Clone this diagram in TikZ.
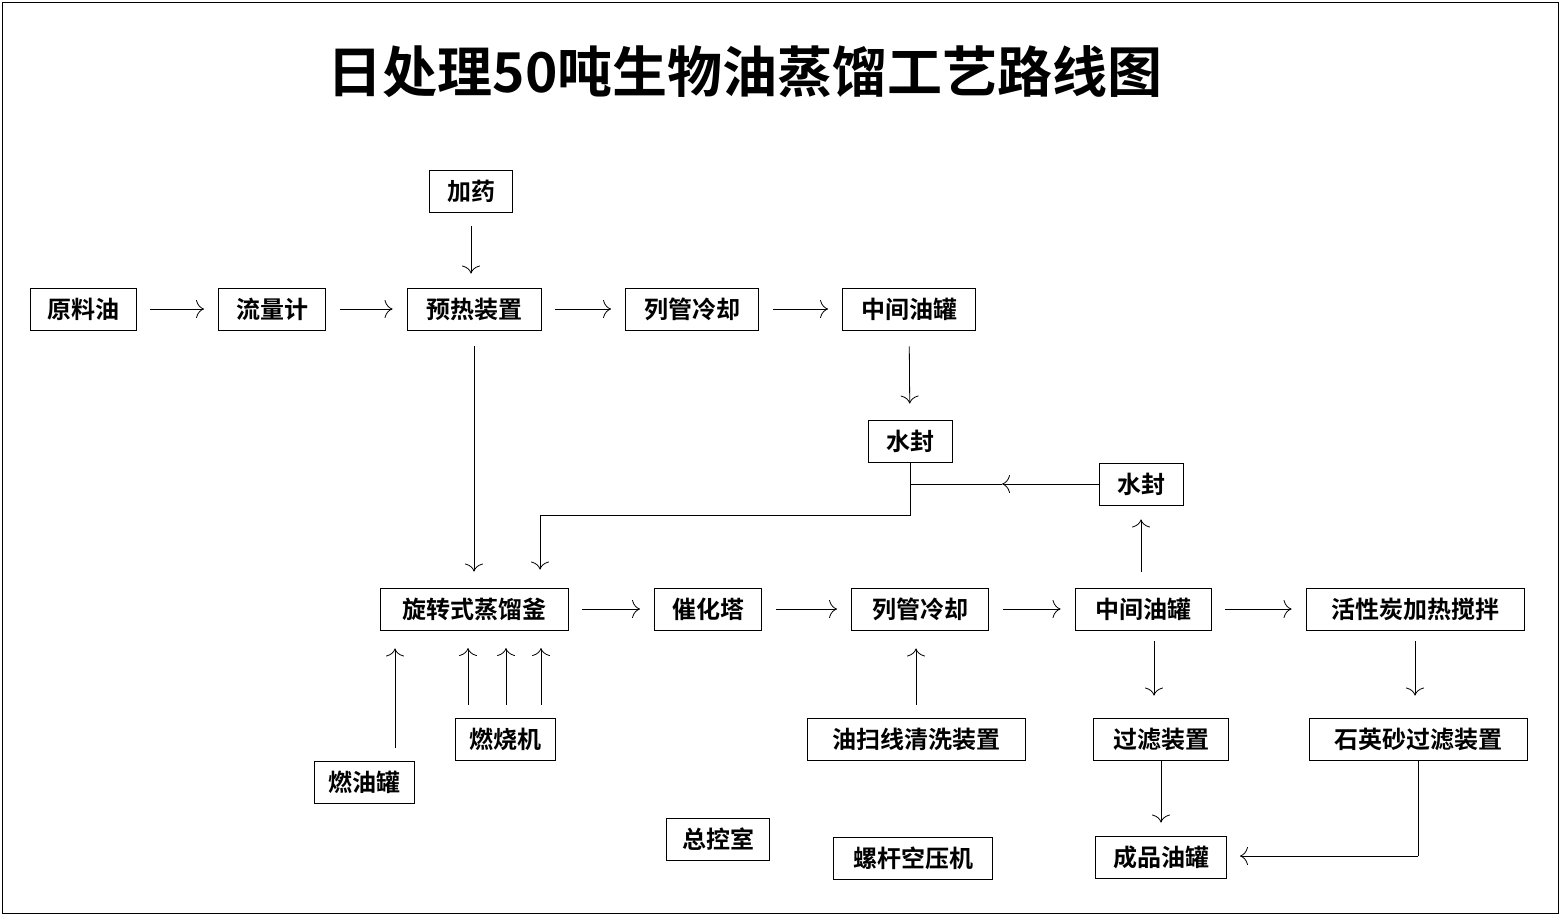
\documentclass[tikz,border=0pt]{standalone}
\usepackage{fontspec}
\setmainfont{Noto Sans CJK SC}[BoldFont=Noto Sans CJK SC Bold]
\usetikzlibrary{arrows.meta}
\begin{document}
\begin{tikzpicture}[x=1pt,y=-1pt,
 box/.style={draw,line width=0.9pt,minimum height=42pt,inner sep=0pt,font=\fontsize{24}{24}\selectfont\bfseries},
 ar/.style={line width=0.8pt,-{To[length=8pt,width=18pt]},shorten >=14pt,shorten <=14pt},
 ln/.style={line width=0.8pt}]
\useasboundingbox (0,0) rectangle (1563,918);
\draw[line width=1pt] (2,2) rectangle (1558,913);
\node[font=\fontsize{55}{55}\selectfont\bfseries] (title) at (745,72) {日处理50吨生物油蒸馏工艺路线图};
\node[box,minimum width=83] (jy) at (471,191) {加药};
\node[box,minimum width=106] (yl) at (83,309) {原料油};
\node[box,minimum width=107] (ll) at (272,309) {流量计};
\node[box,minimum width=134] (yr) at (474,309) {预热装置};
\node[box,minimum width=133] (lg1) at (692,309) {列管冷却};
\node[box,minimum width=133] (zj1) at (909,309) {中间油罐};
\node[box,minimum width=84] (sf1) at (910,441) {水封};
\node[box,minimum width=84] (sf2) at (1141,484) {水封};
\node[box,minimum width=188] (xz) at (474,609) {旋转式蒸馏釜};
\node[box,minimum width=107] (ch) at (708,609) {催化塔};
\node[box,minimum width=137] (lg2) at (920,609) {列管冷却};
\node[box,minimum width=136] (zj2) at (1143,609) {中间油罐};
\node[box,minimum width=218] (hx) at (1415,609) {活性炭加热搅拌};
\node[box,minimum width=100] (ry) at (364,782) {燃油罐};
\node[box,minimum width=100] (rs) at (505,739) {燃烧机};
\node[box,minimum width=218] (ys) at (916,739) {油扫线清洗装置};
\node[box,minimum width=135] (gl) at (1161,739) {过滤装置};
\node[box,minimum width=218] (sy) at (1418,739) {石英砂过滤装置};
\node[box,minimum width=103] (zk) at (718,839) {总控室};
\node[box,minimum width=159] (lg) at (913,858) {螺杆空压机};
\node[box,minimum width=131] (cp) at (1161,857) {成品油罐};
% top row
\draw[ar] (yl) -- (ll);
\draw[ar] (ll) -- (yr);
\draw[ar] (yr) -- (lg1);
\draw[ar] (lg1) -- (zj1);
\draw[ar] (jy) -- (jy|-yr.north);
\draw[ar,shorten <=16pt,shorten >=16pt] (yr) -- (xz);
\draw[ar,shorten <=16pt,shorten >=16pt] (zj1) -- (sf1);
% water seal lines
\coordinate (a1) at (910,515);
\coordinate (a2) at (540,515);
\coordinate (a3) at (1002,484);
\coordinate (a4) at (910,484);
\draw[ln] (sf1.south) -- (a1) -- (a2);
\draw[ln,-{To[length=8pt,width=18pt]},shorten >=18pt] (a2) -- (a2|-xz.north);
\draw[ln,-{To[length=8pt,width=18pt]}] (sf2.west) -- (a3);
\draw[ln] (a3) -- (a4);
\draw[ar,shorten <=16pt] (zj2.north-|sf2) -- (sf2);
% bottom row
\draw[ar] (xz) -- (ch);
\draw[ar] (ch) -- (lg2);
\draw[ar] (lg2) -- (zj2);
\draw[ar] (zj2) -- (hx);
\coordinate (b1) at (1154,630);
\draw[ar,shorten <=11pt,shorten >=22pt] (b1) -- (b1|-gl.north);
\draw[ar,shorten <=11pt,shorten >=22pt] (hx.south) -- (hx.south|-sy.north);
\draw[ar,shorten <=1pt,shorten >=13pt] (gl) -- (cp);
\coordinate (c1) at (1418,856);
\draw[ln] (sy.south-|c1) -- (c1);
\draw[ln,-{To[length=8pt,width=18pt]},shorten >=13pt] (c1) -- (cp.east|-c1);
% up arrows
\coordinate (d1) at (395,748);
\draw[ar,shorten <=0pt,shorten >=18pt] (d1) -- (d1|-xz.south);
\foreach \x in {468,506,541}{
 \draw[ar,shorten <=13pt,shorten >=18pt] (\x,718) -- (\x,630);
}
\draw[ar,shorten <=13pt,shorten >=18pt] (ys) -- (ys|-lg2.south);
\end{tikzpicture}
\end{document}
